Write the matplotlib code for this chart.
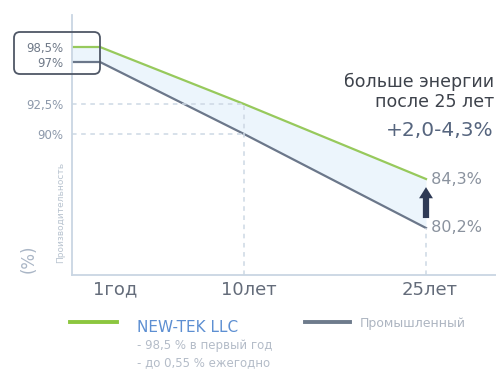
import numpy as np
import matplotlib.pyplot as plt
from matplotlib.lines import Line2D
from matplotlib.patches import FancyBboxPatch
import matplotlib.transforms as mtransforms

plt.rcParams['font.family'] = ['DejaVu Sans']

years = [0, 1, 10, 25]
newtek = [98.5, 98.5, 92.5, 84.3]
industrial = [97, 97, 90, 80.2]
xtick_years = [1, 10, 25]
xtick_labels = ['1год', '10лет', '25лет']
ytick_vals = [90, 92.5, 97, 98.5]
ytick_labels = ['90%', '92,5%', '97%', '98,5%']

W, H = 496, 374

# the chart is schematic (not to scale), so map values to picture positions
x_knots = [0, 1, 10, 25, 27.5]
x_pos = [72, 100, 244, 426, 496]
y_knots = [76, 80.2, 84.3, 90, 92.5, 97, 98.5, 101.5]
y_pos = [99, 146, 195, 240, 270, 312, 327, 359]

def fx(v):
    return np.interp(v, x_knots, x_pos)
def ifx(t):
    return np.interp(t, x_pos, x_knots)
def fy(v):
    return np.interp(v, y_knots, y_pos)
def ify(t):
    return np.interp(t, y_pos, y_knots)

def px(x, y):
    # picture pixel (top-left origin) -> figure fraction
    return x / W, 1 - y / H

fig = plt.figure(figsize=(W / 100, H / 100), dpi=100)
ax = fig.add_axes([72 / W, 99 / H, 424 / W, 260 / H])
ax.set_xscale('function', functions=(fx, ifx))
ax.set_yscale('function', functions=(fy, ify))
ax.set_xlim(0, 27.5)
ax.set_ylim(76, 101.5)

green = '#97c95c'
grey = '#6b778a'
guide = '#cdd8e4'

ax.fill_between(years, industrial, newtek, color='#ecf5fc', lw=0)
ax.plot(years, newtek, color=green, lw=1.6)
ax.plot(years, industrial, color=grey, lw=1.6)

# dashed guides
for v in (newtek[2], industrial[2]):
    ax.hlines(v, 0, years[2], colors=guide, linestyles=(0, (3, 3)), lw=1.1)
ax.vlines(years[2], 76, newtek[2], colors=guide, linestyles=(0, (3, 3)), lw=1.1)
ax.vlines(years[3], 76, industrial[3], colors=guide, linestyles=(0, (3, 3)), lw=1.1)

# arrow between the two end values
ax.annotate('', xy=(years[-1], newtek[-1] - 0.45), xytext=(years[-1], industrial[-1] + 0.6),
            arrowprops=dict(arrowstyle='simple,head_length=0.8,head_width=1.0,tail_width=0.45',
                            color='#2e3a55', lw=0))

ax.text(years[-1], newtek[-1], ' ' + '84,3%', color='#8a929e', fontsize=11.5, va='center')
ax.text(years[-1], industrial[-1], ' ' + '80,2%', color='#8a929e', fontsize=11.5, va='center')

for s in ('top', 'right'):
    ax.spines[s].set_visible(False)
for s in ('left', 'bottom'):
    ax.spines[s].set_color('#c9d6e3')
    ax.spines[s].set_linewidth(1.3)

ax.set_yticks(ytick_vals)
ax.set_yticklabels(ytick_labels)
ax.tick_params(axis='y', length=0, pad=6, labelsize=8.5, labelcolor='#8d99ab')
for lab in ax.get_yticklabels()[2:]:
    lab.set_color('#707a89')

ax.set_xticks(xtick_years)
ax.set_xticklabels(xtick_labels)
ax.tick_params(axis='x', length=0, pad=4, labelsize=13, labelcolor='#646c7a')
shift = [15, 5, 4]
for lab, s in zip(ax.get_xticklabels(), shift):
    lab.set_transform(lab.get_transform() + mtransforms.ScaledTranslation(s / 100, 0, fig.dpi_scale_trans))

# rounded box around 98,5% / 97%
box = FancyBboxPatch((14, H - 74), 86, 42, boxstyle='round,pad=0,rounding_size=6',
                     transform=mtransforms.IdentityTransform(), fill=False,
                     edgecolor='#4f5766', lw=1.3)
fig.add_artist(box)

# y axis label
fig.text(*px(29, 259), '(%)', rotation=90, color='#aab6c6', fontsize=12, ha='center', va='center')
fig.text(*px(61, 212), 'Производительность', rotation=90, color='#b9c4d0', fontsize=6.5,
         ha='center', va='center')

# right annotation
fig.text(*px(494, 87), 'больше энергии', color='#3d424b', fontsize=12.5, ha='right', va='baseline')
fig.text(*px(494, 107), 'после 25 лет', color='#3d424b', fontsize=12.5, ha='right', va='baseline')
fig.text(*px(494, 136), '+2,0-4,3%', color='#56657e', fontsize=14.5, ha='right', va='baseline')

# legend
fig.add_artist(Line2D([70 / W, 117 / W], [1 - 322 / H] * 2, color='#8cc63f', lw=2.8))
fig.text(*px(137, 327), 'NEW-TEK LLC', color='#5d8fd2', fontsize=11, va='center')
fig.text(*px(137, 346), '- 98,5 % в первый год', color='#b4bcc8', fontsize=8.5, va='center')
fig.text(*px(137, 363), '- до 0,55 % ежегодно', color='#b4bcc8', fontsize=8.5, va='center')
fig.add_artist(Line2D([305 / W, 350 / W], [1 - 322 / H] * 2, color='#6e7b8c', lw=2.8))
fig.text(*px(360, 323), 'Промышленный', color='#adb5c1', fontsize=9, va='center')

fig.savefig('out.png', dpi=100)
